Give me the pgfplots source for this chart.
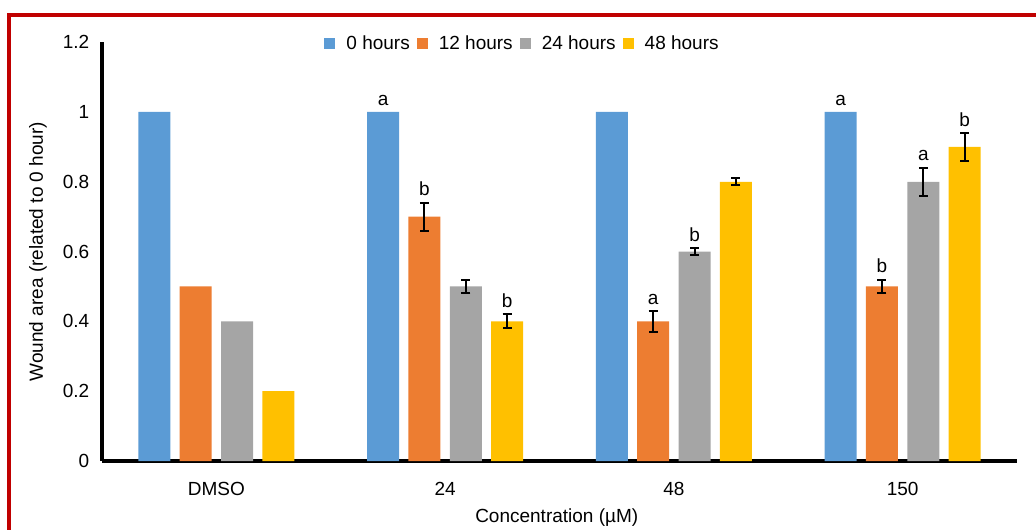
\documentclass[border=0pt]{standalone}
\usepackage{fontspec}
\setmainfont{Liberation Sans}
\usepackage{pgfplots}
\pgfplotsset{compat=1.18}
\usepackage{pgfplotstable}
\definecolor{c0}{HTML}{5B9BD5}
\definecolor{c1}{HTML}{ED7D31}
\definecolor{c2}{HTML}{A5A5A5}
\definecolor{c3}{HTML}{FFC000}
\definecolor{frame}{RGB}{192,0,0}

\pgfplotstableread{
x y err lab
0 1 0 {}
1 1 0 a
2 1 0 {}
3 1 0 a
}\tzero
\pgfplotstableread{
x y err lab
0 0.5 0 {}
1 0.7 0.04 b
2 0.4 0.03 a
3 0.5 0.02 b
}\ttwelve
\pgfplotstableread{
x y err lab
0 0.4 0 {}
1 0.5 0.02 {}
2 0.6 0.01 b
3 0.8 0.04 a
}\tfour
\pgfplotstableread{
x y err lab
0 0.2 0 {}
1 0.4 0.02 b
2 0.8 0.01 {}
3 0.9 0.04 b
}\teight

\pgfplotsset{
  lbl/.style={nodes near coords, point meta=explicit symbolic,
    visualization depends on={\thisrow{err} \as \myerr},
    every node near coord/.append style={anchor=south, black, yshift=\myerr*174.5pt}},
  ebar/.style={forget plot, draw=none, fill=none, skip coords between index={0}{1},
    error bars/.cd, y dir=both, y explicit,
    error bar style={line width=1pt, black},
    error mark options={rotate=90, mark size=2.25pt, line width=1pt, black}},
}

\begin{document}
\fontsize{9.5}{11.4}\selectfont
\begin{tikzpicture}
\useasboundingbox (0,0) rectangle (518pt,264.5pt);
\draw[line width=2pt, frame] (4.65pt,-5pt) -- (4.65pt,257.15pt) -- (530pt,257.15pt);
\begin{axis}[
  at={(51pt,34pt)}, anchor=south west,
  scale only axis, width=457.5pt, height=209.4pt,
  xmin=-0.5, xmax=3.5, ymin=0, ymax=1.2,
  axis x line*=bottom, axis y line*=left,
  axis line style={line width=1.75pt, black},
  xtick={0,1,2,3}, xticklabels={DMSO,24,48,150},
  ytick={0,0.2,0.4,0.6,0.8,1,1.2},
  major tick length=0pt,
  yticklabel style={xshift=-3pt},
  xticklabel style={yshift=-7.25pt},
  /pgf/number format/assume math mode=true,
  ybar, bar width=16pt,
  ylabel={Wound area (related to 0 hour)},
  ylabel style={at={(axis description cs:-0.07,0.5)}, anchor=center},
  xlabel={Concentration (µM)},
  xlabel style={at={(axis description cs:0.497,-0.135)}, anchor=center},
  legend style={at={(0.4607,0.9957)}, anchor=center, draw=none, fill=none,
    legend columns=4,
    /tikz/every odd column/.append style={column sep=3.5pt},
    /tikz/every even column/.append style={column sep=1.5pt}},
]
\addplot[fill=c0, draw=none, bar shift=-30.975pt, lbl,
  legend image code/.code={\fill[c0] (0pt,-2.75pt) rectangle (5.5pt,2.75pt);}]
  table[x=x, y=y, meta=lab]{\tzero};
\addplot[fill=c1, draw=none, bar shift=-10.325pt, lbl,
  legend image code/.code={\fill[c1] (0pt,-2.75pt) rectangle (5.5pt,2.75pt);}]
  table[x=x, y=y, meta=lab]{\ttwelve};
\addplot[fill=c2, draw=none, bar shift=10.325pt, lbl,
  legend image code/.code={\fill[c2] (0pt,-2.75pt) rectangle (5.5pt,2.75pt);}]
  table[x=x, y=y, meta=lab]{\tfour};
\addplot[fill=c3, draw=none, bar shift=30.975pt, lbl,
  legend image code/.code={\fill[c3] (0pt,-2.75pt) rectangle (5.5pt,2.75pt);}]
  table[x=x, y=y, meta=lab]{\teight};
\legend{0 hours, 12 hours, 24 hours, 48 hours}
\addplot[bar shift=-10.325pt, ebar] table[x=x, y=y, y error=err]{\ttwelve};
\addplot[bar shift=10.325pt, ebar] table[x=x, y=y, y error=err]{\tfour};
\addplot[bar shift=30.975pt, ebar] table[x=x, y=y, y error=err]{\teight};
\end{axis}
\end{tikzpicture}
\end{document}
